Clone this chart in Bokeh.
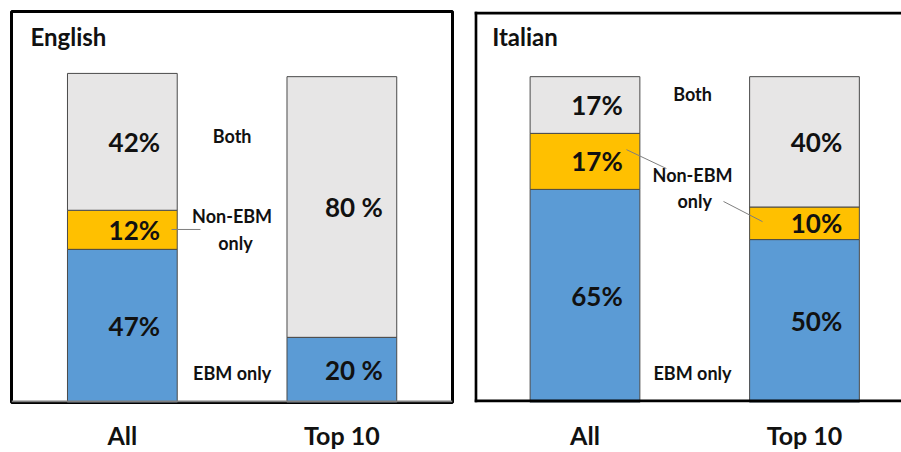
import numpy as np
from bokeh.plotting import figure
from bokeh.models import ColumnDataSource, FixedTicker, Span
from bokeh.layouts import row
from bokeh.embed import file_html
from bokeh.resources import INLINE
from bokeh.core.properties import value

# ---- data ----
categories = ["All", "Top 10"]
segments = ["ebm", "non", "both"]

en_ebm = [47, 20]
en_non = [12, 0]
en_both = [42, 80]
en_sep = ["", " "]

it_ebm = [65.4, 50]
it_non = [17.2, 10]
it_both = [17.4, 40]
it_sep = ["", ""]

colors = ["#5B9BD5", "#FFC000", "#E7E6E6"]
FONT = "Lato"

# annotation texts (label, x, y) in data units
en_notes = [("Both", 1.0, 81.9), ("Non-EBM", 1.0, 57.1), ("only", 1.015, 49.1), ("EBM only", 1.0, 9.2)]
it_notes = [("Both", 0.99, 94.8), ("Non-EBM", 0.99, 69.9), ("only", 1.0, 61.7), ("EBM only", 0.99, 9.2)]
en_leaders = [(0.724, 53.1, 0.856, 53.1)]
it_leaders = [(0.689, 77.6, 0.871, 71.8), (1.131, 61.7, 1.309, 55.5)]


def make_panel(title, ebm, non, both, sep, notes, leaders, width, bl, br, xr, title_pos, full_outline):
    xs = [i + 0.5 for i in range(len(categories))]
    p = figure(width=width, height=452, x_range=xr, y_range=(0, 120),
               output_backend="svg", toolbar_location=None, y_axis_location=None,
               min_border_left=bl, min_border_right=br, min_border_top=11, min_border_bottom=10)
    p.background_fill_color = "white"
    p.border_fill_color = "white"
    p.xgrid.visible = False
    p.ygrid.visible = False

    src = ColumnDataSource(dict(x=xs, ebm=ebm, non=non, both=both))
    p.vbar_stack(segments, x="x", width=0.5, color=colors, source=src,
                 line_color="#4a4a4a", line_width=1)

    # percentage labels at segment centres
    vals = np.array([ebm, non, both], dtype=float)
    tops = np.cumsum(vals, axis=0)
    mids = tops - vals / 2
    lx, ly, lt = [], [], []
    for s in range(vals.shape[0]):
        for i in range(vals.shape[1]):
            if vals[s, i] > 0:
                lx.append(xs[i])
                ly.append(mids[s, i])
                lt.append(f"{vals[s, i]:.0f}{sep[i]}%")
    p.text(x=lx, y=ly, text=lt, x_offset=12, text_align="center", text_baseline="middle",
           text_font=value(FONT), text_font_style="bold", text_font_size="26px", text_color="#111111")

    # side annotations
    p.text(x=[n[1] for n in notes], y=[n[2] for n in notes], text=[n[0] for n in notes],
           text_align="center", text_baseline="middle", text_font=value(FONT),
           text_font_style="bold", text_font_size="18px", text_color="#111111")
    p.segment(x0=[l[0] for l in leaders], y0=[l[1] for l in leaders],
              x1=[l[2] for l in leaders], y1=[l[3] for l in leaders],
              line_color="#7f7f7f", line_width=1)

    # panel title
    p.text(x=[title_pos[0]], y=[title_pos[1]], text=[title], text_align="left",
           text_baseline="alphabetic", text_font=value(FONT), text_font_style="bold",
           text_font_size="24px", text_color="#111111")

    # x axis
    p.xaxis.ticker = FixedTicker(ticks=xs)
    p.xaxis.major_label_overrides = {x: c for x, c in zip(xs, categories)}
    p.xaxis.axis_line_color = None
    p.xaxis.major_tick_line_color = None
    p.xaxis.minor_tick_line_color = None
    p.xaxis.major_tick_out = 0
    p.xaxis.major_tick_in = 0
    p.xaxis.major_label_standoff = 17
    p.xaxis.major_label_text_font = FONT
    p.xaxis.major_label_text_font_style = "bold"
    p.xaxis.major_label_text_font_size = "25px"
    p.xaxis.major_label_text_color = "#111111"

    if full_outline:
        p.outline_line_color = "black"
        p.outline_line_width = 3
        p.add_layout(Span(location=0.3, dimension="width", line_color="#7f7f7f", line_width=2))
    else:
        p.outline_line_color = None
        p.add_layout(Span(location=xr[0] + 0.006, dimension="height", line_color="black", line_width=3))
        p.add_layout(Span(location=120 - 0.45, dimension="width", line_color="black", line_width=3))
        p.add_layout(Span(location=0.45, dimension="width", line_color="black", line_width=3))
    return p


p1 = make_panel("English", en_ebm, en_non, en_both, en_sep, en_notes, en_leaders,
                463, 11, 11, (-0.005, 2.004), (0.0816, 112.3), True)
p2 = make_panel("Italian", it_ebm, it_non, it_both, it_sep, it_notes, it_leaders,
                438, 11, 0, (-0.0034, 1.942), (0.077, 112.3), False)

layout = row(p1, p2)
open("out.html", "w").write(file_html(layout, INLINE))
